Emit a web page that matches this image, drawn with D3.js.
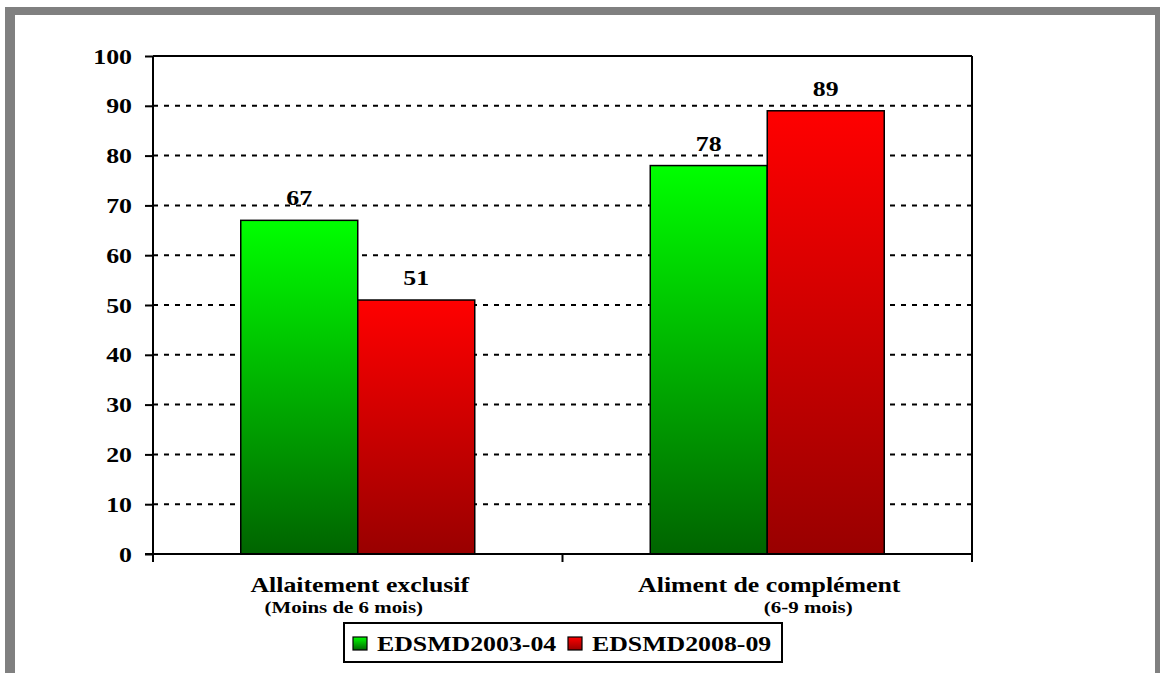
<!DOCTYPE html>
<html><head><meta charset="utf-8">
<script src="https://cdn.jsdelivr.net/npm/d3@7"></script>
<style>body{margin:0;background:#fff}svg{display:block}</style>
</head><body>
<script>
const categories = ["Allaitement exclusif", "Aliment de complément"];
const subLabels = ["(Moins de 6 mois)", "(6-9 mois)"];
const seriesNames = ["EDSMD2003-04", "EDSMD2008-09"];
const values2003 = [67, 78];
const values2008 = [51, 89];
const yTicks = [0, 10, 20, 30, 40, 50, 60, 70, 80, 90, 100];

const W = 1160, H = 673;
const svg = d3.select("body").append("svg").attr("width", W).attr("height", H);
const font = "'Liberation Serif', 'Times New Roman', serif";
const SX = 1.23; // horizontal stretch of the original's text

function stretchedText(parent, px, py, str, size, anchor) {
  return parent.append("text")
    .attr("transform", `translate(${px},${py}) scale(${SX},1)`)
    .attr("text-anchor", anchor || "start")
    .attr("font-family", font).attr("font-weight", "bold").attr("font-size", size)
    .attr("fill", "#000").text(str);
}

// outer gray frame
svg.append("rect").attr("x", 0).attr("y", 0).attr("width", W).attr("height", H).attr("fill", "#fff");
svg.append("rect").attr("x", 5).attr("y", 7).attr("width", 1155).attr("height", 8).attr("fill", "#808080");
svg.append("rect").attr("x", 5).attr("y", 7).attr("width", 10).attr("height", H).attr("fill", "#808080");
svg.append("rect").attr("x", 1155).attr("y", 7).attr("width", 10).attr("height", H).attr("fill", "#808080");

const defs = svg.append("defs");
function grad(id, c1, c2) {
  const g = defs.append("linearGradient").attr("id", id).attr("x1", 0).attr("y1", 0).attr("x2", 0).attr("y2", 1);
  g.append("stop").attr("offset", "0%").attr("stop-color", c1);
  g.append("stop").attr("offset", "100%").attr("stop-color", c2);
}
grad("gGreen", "#00ff00", "#006400");
grad("gRed", "#ff0000", "#990000");
const fills = ["url(#gGreen)", "url(#gRed)"];

const pLeft = 153, pRight = 972, pTop = 56, pBottom = 554;
const x = d3.scaleBand().domain(categories).range([pLeft, pRight]).paddingInner(0).paddingOuter(0);
const xs = d3.scaleBand().domain(seriesNames).range([0, x.bandwidth()]).paddingInner(0).paddingOuter(0.75);
const y = d3.scaleLinear().domain([0, 100]).range([pBottom, pTop]);

// gridlines
svg.append("g").selectAll("line").data(yTicks.filter(t => t > 0 && t < 100)).join("line")
  .attr("x1", pLeft).attr("x2", pRight).attr("y1", d => y(d)).attr("y2", d => y(d))
  .attr("stroke", "#000").attr("stroke-width", 2).attr("stroke-dasharray", "5,6");

// frame top and right
svg.append("line").attr("x1", pLeft).attr("x2", pRight).attr("y1", y(100)).attr("y2", y(100)).attr("stroke", "#000").attr("stroke-width", 2);
svg.append("line").attr("x1", pRight).attr("x2", pRight).attr("y1", y(100)).attr("y2", pBottom + 8).attr("stroke", "#000").attr("stroke-width", 2);

// bars
const data = categories.map((c, i) => ({ cat: c, vals: [values2003[i], values2008[i]] }));
const groups = svg.append("g").selectAll("g").data(data).join("g")
  .attr("transform", d => `translate(${x(d.cat)},0)`);
groups.selectAll("rect").data(d => d.vals.map((v, j) => ({ v, j }))).join("rect")
  .attr("x", d => xs(seriesNames[d.j])).attr("width", xs.bandwidth())
  .attr("y", d => y(d.v)).attr("height", d => y(0) - y(d.v))
  .attr("fill", d => fills[d.j]).attr("stroke", "#000").attr("stroke-width", 1.5);
groups.each(function (d) {
  const g = d3.select(this);
  d.vals.forEach((v, j) => {
    stretchedText(g, xs(seriesNames[j]) + xs.bandwidth() / 2, y(v) - 15, v, 21, "middle");
  });
});

// y axis
const yAxis = svg.append("g").attr("transform", `translate(${pLeft},0)`)
  .call(d3.axisLeft(y).tickValues(yTicks).tickSize(8).tickFormat(""));
yAxis.select(".domain").attr("stroke", "#000").attr("stroke-width", 2).attr("d", `M0,${pTop}V${pBottom + 8}`);
yAxis.selectAll(".tick line").attr("stroke", "#000").attr("stroke-width", 2);
yAxis.selectAll(".tick").each(function (d) {
  stretchedText(d3.select(this), -21, 7, d, 21, "end");
});

// x axis
const xAxis = svg.append("g").attr("transform", `translate(0,${pBottom})`);
xAxis.append("line").attr("x1", pLeft - 8).attr("x2", pRight).attr("y1", 0).attr("y2", 0).attr("stroke", "#000").attr("stroke-width", 2);
xAxis.selectAll("line.t").data([pLeft, x(categories[1]), pRight]).join("line").attr("class", "t")
  .attr("x1", d => d).attr("x2", d => d).attr("y1", 0).attr("y2", 8).attr("stroke", "#000").attr("stroke-width", 2);

const catOffsets = [2, 2];
const subOffsets = [-14, 41];
categories.forEach((c, i) => {
  const cx = x(c) + x.bandwidth() / 2;
  stretchedText(svg, cx + catOffsets[i], 592, c, 21, "middle");
  stretchedText(svg, cx + subOffsets[i], 613, subLabels[i], 17, "middle");
});

// legend
const lg = svg.append("g");
lg.append("rect").attr("x", 344).attr("y", 623).attr("width", 438).attr("height", 39)
  .attr("fill", "#fff").attr("stroke", "#000").attr("stroke-width", 2);
const legX = [353, 568];
seriesNames.forEach((s, i) => {
  lg.append("rect").attr("x", legX[i]).attr("y", 637).attr("width", 14).attr("height", 13)
    .attr("fill", fills[i]).attr("stroke", "#000").attr("stroke-width", 1.2);
  stretchedText(lg, legX[i] + 24, 651, s, 21, "start");
});
</script>
</body></html>
